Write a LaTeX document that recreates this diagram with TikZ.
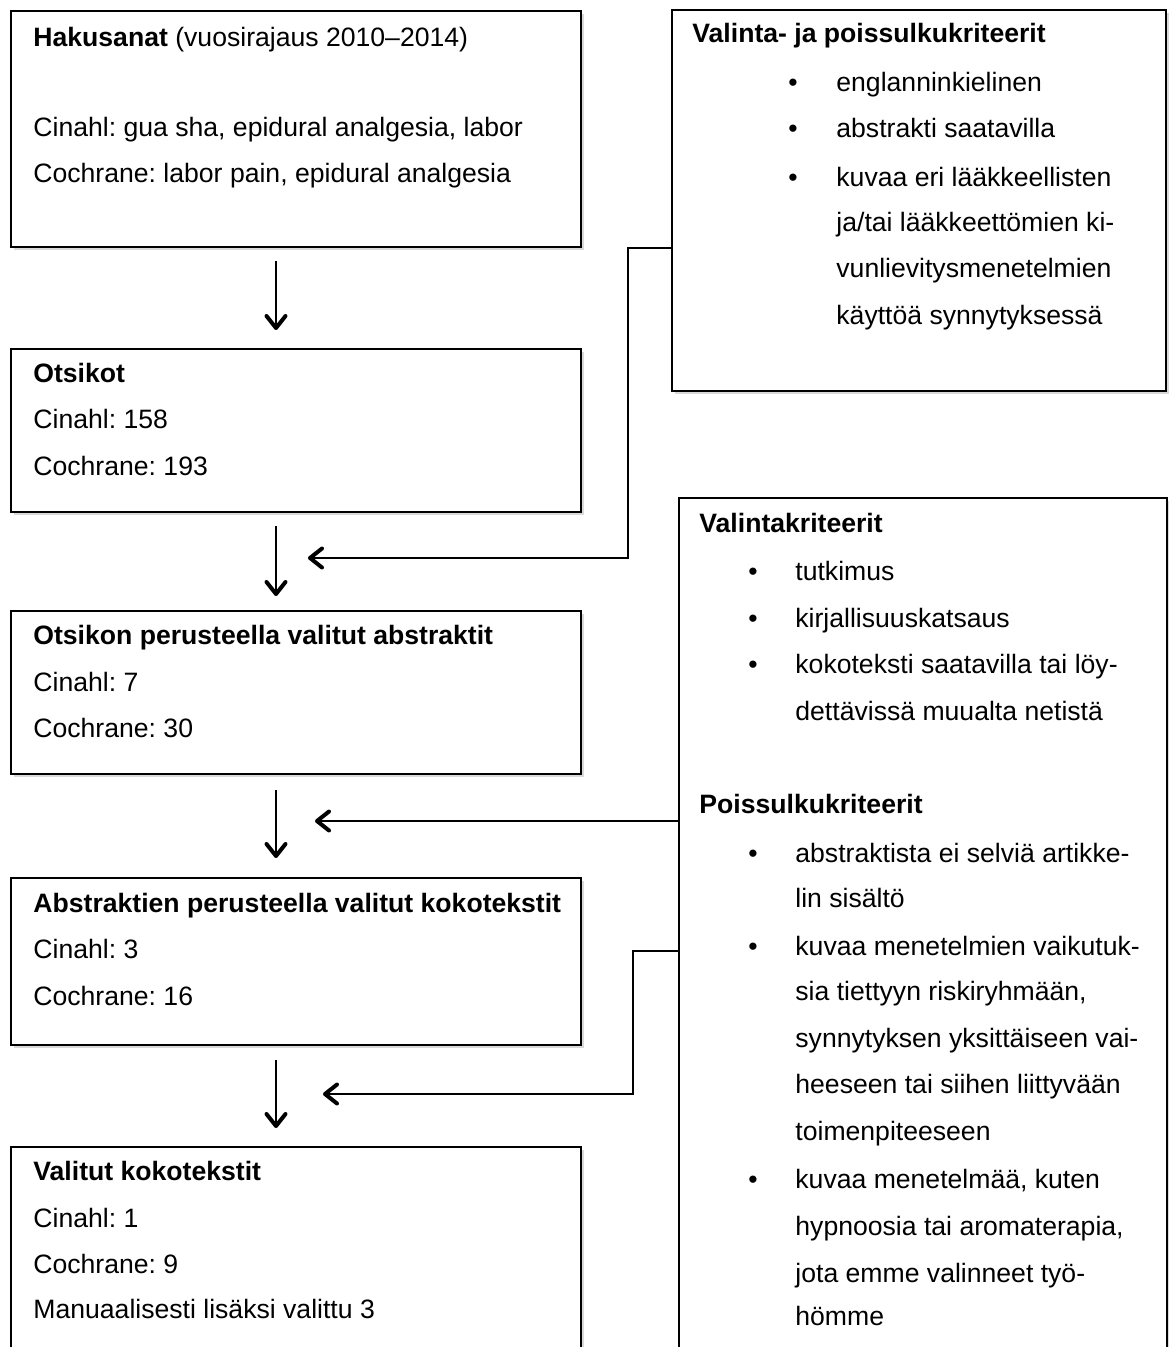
\documentclass[tikz,border=0pt]{standalone}
\usepackage{fontspec}
\setmainfont{Liberation Sans}
\usetikzlibrary{arrows.meta,positioning,shadows}
\frenchspacing

\begin{document}
\begin{tikzpicture}[x=0.5pt,y=-0.5pt,
  box/.style={draw, line width=1pt, fill=white, anchor=north west, inner sep=0pt,
    drop shadow={shadow xshift=1.5pt, shadow yshift=-1.5pt, opacity=0.3}},
  txt/.style={anchor=base west, inner sep=0pt, font=\fontsize{13.3}{16}\selectfont},
  flow/.style={line width=0.8pt, -{Straight Barb[length=6pt,width=9.5pt,line width=2pt 0,round]}}]
  \useasboundingbox (0,0) rectangle (1168,1347);
  % flow boxes
  \node[box, minimum width=285pt, minimum height=118pt]  (haku)  at (10,10)   {};
  \node[box, minimum width=285pt, minimum height=81.5pt] (otsi)  at (10,348)  {};
  \node[box, minimum width=285pt, minimum height=81.5pt] (abst)  at (10,610)  {};
  \node[box, minimum width=285pt, minimum height=83.5pt] (koko)  at (10,877)  {};
  \node[box, minimum width=285pt, minimum height=150pt]  (valit) at (10,1146) {};
  % criteria boxes
  \node[box, minimum width=247pt, minimum height=190.5pt] (crit1) at (671,9)  {};
  \node[box, minimum width=244pt, minimum height=450pt]   (crit2) at (678,497) {};
  % texts of the flow boxes
  \foreach \y/\t in {47/{\textbf{Hakusanat} (vuosirajaus 2010–2014)},
      137/{Cinahl: gua sha, epidural analgesia, labor},
      183/{Cochrane: labor pain, epidural analgesia},
      383/\textbf{Otsikot}, 429/{Cinahl: 158}, 475/{Cochrane: 193},
      644/\textbf{Otsikon perusteella valitut abstraktit}, 691/{Cinahl: 7}, 737/{Cochrane: 30},
      912/\textbf{Abstraktien perusteella valitut kokotekstit}, 958/{Cinahl: 3}, 1005/{Cochrane: 16},
      1180/\textbf{Valitut kokotekstit}, 1227/{Cinahl: 1}, 1273/{Cochrane: 9},
      1318/{Manuaalisesti lisäksi valittu 3}}
    \node[txt] (flow-\y) at (33,\y) {\t};
  % texts of the upper criteria box
  \node[txt] (crit1-title) at (692,43) {\textbf{Valinta- ja poissulkukriteerit}};
  \foreach \y in {92,138,187}
    \node[txt] (crit1-b\y) at (788,\y) {\textbullet};
  \foreach \y/\t in {92/englanninkielinen, 138/abstrakti saatavilla,
      187/kuvaa eri lääkkeellisten, 232/{ja/tai lääkkeettömien ki-},
      278/vunlievitysmenetelmien, 325/käyttöä synnytyksessä}
    \node[txt] (crit1-\y) at (836,\y) {\t};
  % texts of the lower criteria box
  \node[txt] (crit2-in)  at (699,532) {\textbf{Valintakriteerit}};
  \node[txt] (crit2-out) at (699,813) {\textbf{Poissulkukriteerit}};
  \foreach \y in {580,627,673,862,955,1188}
    \node[txt] (crit2-b\y) at (748,\y) {\textbullet};
  \foreach \y/\t in {580/tutkimus, 627/kirjallisuuskatsaus,
      673/kokoteksti saatavilla tai löy-, 720/dettävissä muualta netistä,
      862/abstraktista ei selviä artikke-, 907/lin sisältö,
      955/kuvaa menetelmien vaikutuk-, 1000/{sia tiettyyn riskiryhmään,},
      1047/synnytyksen yksittäiseen vai-, 1093/heeseen tai siihen liittyvään,
      1140/toimenpiteeseen, 1188/{kuvaa menetelmää, kuten},
      1235/{hypnoosia tai aromaterapia,}, 1282/jota emme valinneet työ-,
      1325/hömme}
    \node[txt] (crit2-\y) at (795,\y) {\t};
  % arrows down the flow
  \foreach \a/\b/\s/\e in {haku/otsi/6.5/9, otsi/abst/6.5/7,
      abst/koko/7.5/9.5, koko/valit/7/9}
    \draw[flow] ([xshift=133pt,yshift=-\s pt]\a.south west)
      -- ([xshift=133pt,yshift=\e pt]\b.north west);
  % criteria connectors
  \coordinate (in1) at (308,558);
  \coordinate (in2) at (315,821);
  \coordinate (in3) at (323,1094);
  \draw[flow] (crit1.west |- haku.south) -- ++(-21.5pt,0) |- (in1);
  \draw[flow] (crit2.west |- in2) -- (in2);
  \draw[flow] ([yshift=-227pt]crit2.north west) -- ++(-22.5pt,0) |- (in3);
\end{tikzpicture}
\end{document}
